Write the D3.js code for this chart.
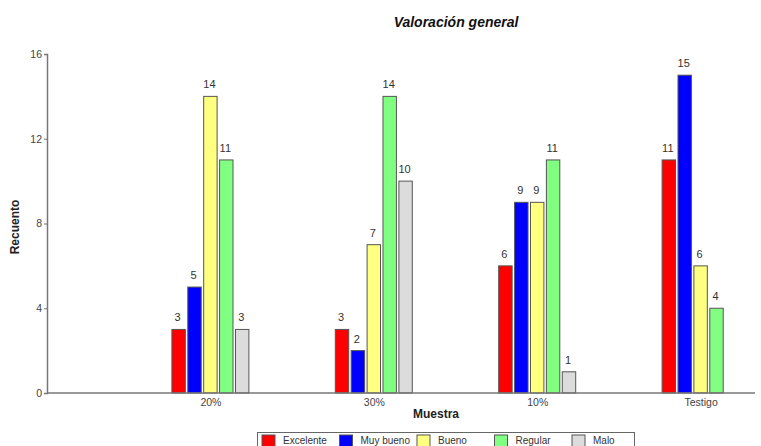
<!DOCTYPE html>
<html>
<head>
<meta charset="utf-8">
<script src="https://cdn.jsdelivr.net/npm/d3@7"></script>
<style>
  html, body { margin: 0; padding: 0; background: #fff; }
  svg { display: block; font-family: "Liberation Sans", Arial, sans-serif; }
</style>
</head>
<body>
<svg id="chart" width="761" height="446"></svg>
<script>
// Muestra groups along the x axis
const categories = ["20%", "30%", "10%", "Testigo"];
// Rating levels (one bar per level in each group)
const series = ["Excelente", "Muy bueno", "Bueno", "Regular", "Malo"];
const seriesColors = ["#ff0000", "#0000ff", "#ffff80", "#80ff80", "#dcdcdc"];
// Counts per level, in the order of categories
const excelente = [3, 3, 6, 11];
const muyBueno  = [5, 2, 9, 15];
const bueno     = [14, 7, 9, 6];
const regular   = [11, 14, 11, 4];
const malo      = [3, 10, 1, 0];
const yTicks = [0, 4, 8, 12, 16];

const values = [excelente, muyBueno, bueno, regular, malo];

const svg = d3.select("#chart");
const plotLeft = 47, plotBottom = 393, plotRight = 755, plotTop = 54;

// Groups sit one step apart, starting one step in from the y axis
const groupStep = 163.4;
const x = d3.scalePoint()
  .domain(categories)
  .range([plotLeft + groupStep, plotLeft + groupStep * categories.length]);

const barStep = 15.4, barWidth = 13;
const xInner = d3.scaleBand()
  .domain(series)
  .range([-barStep * series.length / 2, barStep * series.length / 2])
  .paddingInner((barStep - barWidth) / barStep);

const y = d3.scaleLinear().domain([0, 16]).range([plotBottom, plotTop]);

// Title
svg.append("text")
  .attr("x", 456).attr("y", 27)
  .attr("text-anchor", "middle")
  .attr("font-size", 14).attr("font-weight", "bold").attr("font-style", "italic")
  .attr("fill", "#111")
  .text("Valoración general");

// Bars and value labels
const barData = [];
series.forEach((s, si) => {
  categories.forEach((c, ci) => {
    barData.push({ s, si, c, v: values[si][ci] });
  });
});
const drawn = barData.filter(d => d.v > 0);

svg.append("g").selectAll("rect")
  .data(drawn)
  .join("rect")
  .attr("x", d => x(d.c) + xInner(d.s))
  .attr("y", d => y(d.v))
  .attr("width", xInner.bandwidth())
  .attr("height", d => plotBottom - y(d.v))
  .attr("fill", d => seriesColors[d.si])
  .attr("stroke", "#555")
  .attr("stroke-width", 1);

svg.append("g").selectAll("text")
  .data(drawn)
  .join("text")
  .attr("x", d => x(d.c) + xInner(d.s) + xInner.bandwidth() / 2 - 1)
  .attr("y", d => y(d.v) - 8)
  .attr("text-anchor", "middle")
  .attr("font-size", 11)
  .attr("fill", "#333")
  .text(d => d.v);

// Y axis
const yAxis = svg.append("g")
  .attr("transform", `translate(${plotLeft},0)`)
  .call(d3.axisLeft(y).tickValues(yTicks).tickSize(3).tickPadding(2));
yAxis.select(".domain").attr("stroke", "#777").attr("stroke-width", 1.5);
yAxis.selectAll(".tick line").attr("stroke", "#777");
yAxis.selectAll(".tick text").attr("font-size", 10.5).attr("fill", "#444")
  .attr("font-family", "Liberation Sans, Arial, sans-serif");

// X axis
const xAxis = svg.append("g")
  .attr("transform", `translate(0,${plotBottom})`)
  .call(d3.axisBottom(x).tickSize(0).tickPadding(6));
xAxis.select(".domain").remove();
svg.append("line")
  .attr("x1", plotLeft).attr("x2", plotRight)
  .attr("y1", plotBottom).attr("y2", plotBottom)
  .attr("stroke", "#777").attr("stroke-width", 1.5);
xAxis.selectAll(".tick text").attr("font-size", 10.5).attr("fill", "#444")
  .attr("font-family", "Liberation Sans, Arial, sans-serif");

// Axis titles
svg.append("text")
  .attr("transform", "translate(19,227) rotate(-90)")
  .attr("text-anchor", "middle")
  .attr("font-size", 12).attr("font-weight", "bold").attr("fill", "#222")
  .text("Recuento");

svg.append("text")
  .attr("x", 436).attr("y", 418)
  .attr("text-anchor", "middle")
  .attr("font-size", 12).attr("font-weight", "bold").attr("fill", "#222")
  .text("Muestra");

// Legend
const legend = svg.append("g");
legend.append("rect")
  .attr("x", 257.5).attr("y", 432.5)
  .attr("width", 377).attr("height", 30)
  .attr("fill", "#fff").attr("stroke", "#666").attr("stroke-width", 1);

const legendStep = 77.5;
const items = legend.selectAll("g.item")
  .data(series)
  .join("g")
  .attr("class", "item")
  .attr("transform", (d, i) => `translate(${262 + i * legendStep},435)`);
items.append("rect")
  .attr("width", 13).attr("height", 13)
  .attr("fill", (d, i) => seriesColors[i])
  .attr("stroke", "#555");
items.append("text")
  .attr("x", 21).attr("y", 8.5)
  .attr("font-size", 10).attr("fill", "#333")
  .text(d => d);
</script>
</body>
</html>
